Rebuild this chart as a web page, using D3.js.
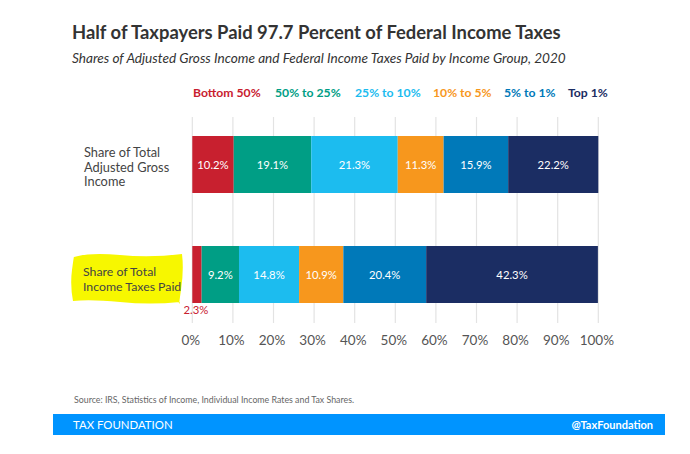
<!DOCTYPE html>
<html>
<head>
<meta charset="utf-8">
<script src="https://cdn.jsdelivr.net/npm/d3@7"></script>
<style>
  body { margin: 0; background: #fff; }
  svg { display: block; font-family: Lato, "Open Sans", sans-serif; }
</style>
</head>
<body>
<svg id="chart" width="690" height="454"></svg>
<script>
var groups = ['Bottom 50%', '50% to 25%', '25% to 10%', '10% to 5%', '5% to 1%', 'Top 1%'];
var colours = ['#c8202f', '#009e85', '#1cbcef', '#f7971d', '#0079b9', '#1b2d63'];
var categories = ['agi', 'tax'];
var categoryLabels = [['Share of Total', 'Adjusted Gross', 'Income'], ['Share of Total', 'Income Taxes Paid']];
var agiShares = [10.2, 19.1, 21.3, 11.3, 15.9, 22.2];
var taxShares = [2.3, 9.2, 14.8, 10.9, 20.4, 42.3];
var ticks = [0, 10, 20, 30, 40, 50, 60, 70, 80, 90, 100];

var svg = d3.select('#chart');

var x = d3.scaleLinear().domain([0, 100]).range([192.3, 598.3]);
var barH = 57;
var barY = { agi: 136, tax: 246 };

// titles
svg.append('text').attr('x', 72).attr('y', 39)
  .attr('font-size', 18.4).attr('font-weight', 700).attr('fill', '#333')
  .text('Half of Taxpayers Paid 97.7 Percent of Federal Income Taxes');
svg.append('text').attr('x', 72).attr('y', 63)
  .attr('font-size', 13.6).attr('font-style', 'italic').attr('fill', '#333')
  .text('Shares of Adjusted Gross Income and Federal Income Taxes Paid by Income Group, 2020');

// legend
var legendX = [193, 275, 355, 433, 504, 568];
svg.append('g').selectAll('text')
  .data(groups)
  .enter().append('text')
  .attr('x', (d, i) => legendX[i])
  .attr('y', 97)
  .attr('font-size', 12.2).attr('font-weight', 700)
  .attr('fill', (d, i) => colours[i])
  .text(d => d);

// gridlines
svg.append('g').selectAll('line')
  .data(ticks)
  .enter().append('line')
  .attr('x1', d => x(d)).attr('x2', d => x(d))
  .attr('y1', 117).attr('y2', 323)
  .attr('stroke', '#e3e3e3').attr('stroke-width', 1.2);

// x axis labels
var axis = svg.append('g').attr('transform', 'translate(0,323)')
  .call(d3.axisBottom(x).tickValues(ticks).tickSize(0).tickPadding(12).tickFormat(d => d + '%'));
axis.select('.domain').remove();
axis.selectAll('text').attr('font-size', 13.5).attr('fill', '#555').attr('dx', -2)
  .attr('font-family', 'Lato, sans-serif');

// yellow highlight behind tax label
svg.append('path')
  .attr('d', 'M74,257 Q90,252 120,255 T182,254 Q184,270 181,290 T180,302 Q150,305 120,302 T73,301 Q70,285 72,270 T74,257 Z')
  .attr('fill', '#f7f700');

// category labels
var lab = svg.append('g');
lab.append('text').attr('y', 157)
  .attr('font-size', 12.8).attr('fill', '#444')
  .selectAll('tspan').data(categoryLabels[0]).enter().append('tspan')
  .attr('x', 84).attr('dy', (d, i) => i === 0 ? 0 : 14.5).text(d => d);
lab.append('text').attr('y', 276)
  .attr('font-size', 12.3).attr('fill', '#444')
  .selectAll('tspan').data(categoryLabels[1]).enter().append('tspan')
  .attr('x', 83).attr('dy', (d, i) => i === 0 ? 0 : 14.5).text(d => d);

// stacked bars
function stackRow(values) {
  var acc = 0;
  return values.map((v, i) => { var s = { i: i, v: v, x0: acc, x1: acc + v }; acc += v; return s; });
}
var rows = { agi: stackRow(agiShares), tax: stackRow(taxShares) };

categories.forEach(function (c) {
  var g = svg.append('g');
  g.selectAll('rect')
    .data(rows[c])
    .enter().append('rect')
    .attr('x', d => x(d.x0))
    .attr('width', d => x(d.x1) - x(d.x0))
    .attr('y', barY[c])
    .attr('height', barH)
    .attr('fill', d => colours[d.i]);
  g.selectAll('text')
    .data(rows[c].filter(d => d.v >= 5))
    .enter().append('text')
    .attr('x', d => (x(d.x0) + x(d.x1)) / 2)
    .attr('y', barY[c] + barH / 2 + 4)
    .attr('text-anchor', 'middle')
    .attr('font-size', 11.3).attr('fill', '#fff')
    .text(d => d.v.toFixed(1) + '%');
  // small segment labelled below the bar
  g.selectAll('text.small')
    .data(rows[c].filter(d => d.v < 5))
    .enter().append('text')
    .attr('class', 'small')
    .attr('x', d => (x(d.x0) + x(d.x1)) / 2 - 1)
    .attr('y', barY[c] + barH + 11)
    .attr('text-anchor', 'middle')
    .attr('font-size', 11.3).attr('fill', '#c8202f')
    .text(d => d.v.toFixed(1) + '%');
});

// source and footer
svg.append('text').attr('x', 74).attr('y', 403)
  .attr('font-size', 8.8).attr('fill', '#666')
  .text('Source: IRS, Statistics of Income, Individual Income Rates and Tax Shares.');
svg.append('rect').attr('x', 53).attr('y', 414).attr('width', 612).attr('height', 21).attr('fill', '#0094ff');
svg.append('text').attr('x', 73).attr('y', 429)
  .attr('font-size', 11.4).attr('fill', '#fff')
  .text('TAX FOUNDATION');
svg.append('text').attr('x', 653).attr('y', 429).attr('text-anchor', 'end')
  .attr('font-size', 11).attr('font-weight', 700).attr('fill', '#fff')
  .text('@TaxFoundation');
</script>
</body>
</html>
